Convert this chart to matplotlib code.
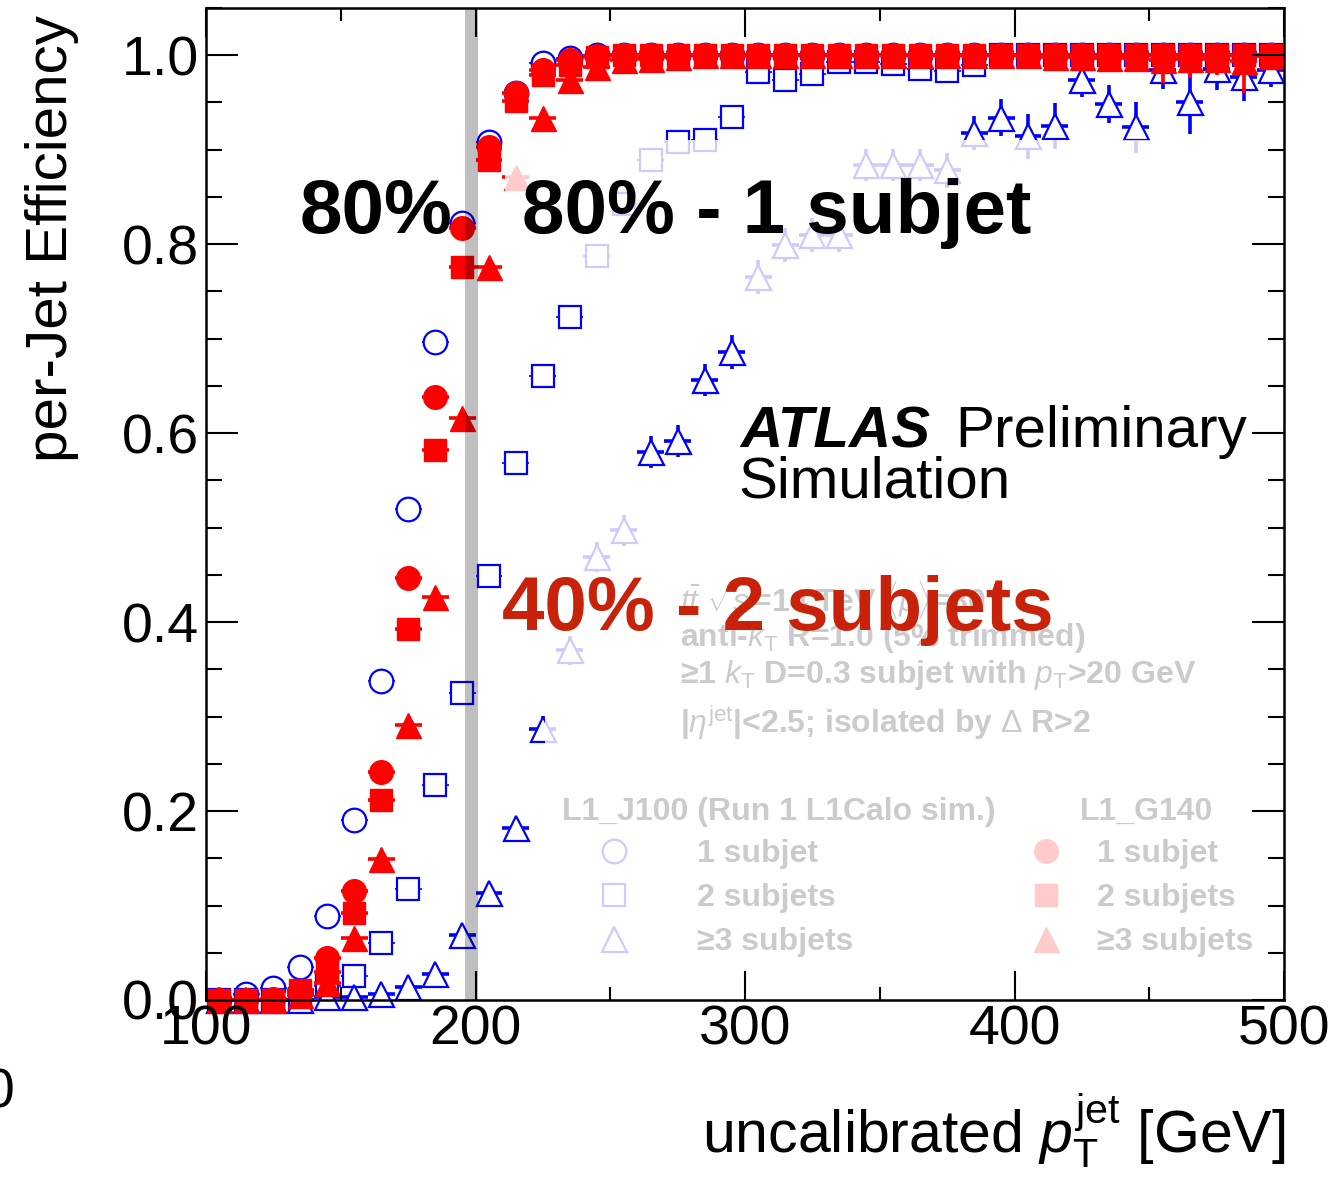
import numpy as np
import matplotlib
matplotlib.use("Agg")
import matplotlib.pyplot as plt
from matplotlib.lines import Line2D
from matplotlib.patches import Rectangle
from matplotlib.ticker import MultipleLocator, FormatStrFormatter

plt.rcParams['font.family'] = ['Liberation Sans', 'DejaVu Sans']
plt.rcParams['mathtext.fontset'] = 'custom'
plt.rcParams['mathtext.rm'] = 'Liberation Sans'
plt.rcParams['mathtext.it'] = 'Liberation Sans:italic'
plt.rcParams['mathtext.bf'] = 'Liberation Sans:bold'
plt.rcParams['mathtext.sf'] = 'Liberation Sans'

# ---------------- data ----------------
pt_bins = [105, 115, 125, 135, 145, 155, 165, 175, 185, 195,
           205, 215, 225, 235, 245, 255, 265, 275, 285, 295,
           305, 315, 325, 335, 345, 355, 365, 375, 385, 395,
           405, 415, 425, 435, 445, 455, 465, 475, 485, 495]

# L1_J100 (open blue)
j100_1sub = [0.000, 0.006, 0.013, 0.035, 0.089, 0.190, 0.338, 0.520, 0.696, 0.822,
             0.908, 0.960, 0.992, 0.997, 1.000, 1.000, 1.000, 1.000, 1.000, 1.000,
             1.000, 1.000, 1.000, 1.000, 1.000, 1.000, 1.000, 1.000, 1.000, 1.000,
             1.000, 1.000, 1.000, 1.000, 1.000, 1.000, 1.000, 1.000, 1.000, 1.000]
j100_2sub = [0.000, 0.000, 0.000, 0.001, 0.015, 0.025, 0.060, 0.118, 0.228, 0.325,
             0.449, 0.568, 0.660, 0.723, 0.788, 0.843, 0.889, 0.908, 0.910, 0.935,
             0.982, 0.974, 0.980, 0.993, 0.993, 0.991, 0.985, 0.983, 0.990, 1.000,
             1.000, 1.000, 1.000, 1.000, 1.000, 1.000, 1.000, 1.000, 1.000, 1.000]
j100_3sub = [0.000, 0.000, 0.000, 0.000, 0.003, 0.003, 0.006, 0.014, 0.027, 0.069,
             0.113, 0.182, 0.287, 0.370, 0.469, 0.497, 0.580, 0.592, 0.656, 0.686,
             0.765, 0.799, 0.810, 0.810, 0.884, 0.884, 0.884, 0.878, 0.918, 0.934,
             0.914, 0.925, 0.974, 0.948, 0.924, 0.984, 0.950, 0.985, 0.977, 0.984]
j100_3sub_err = [0.000, 0.000, 0.000, 0.000, 0.002, 0.002, 0.003, 0.004, 0.006, 0.008,
                 0.010, 0.012, 0.014, 0.015, 0.016, 0.016, 0.017, 0.017, 0.017, 0.018,
                 0.018, 0.018, 0.018, 0.018, 0.017, 0.017, 0.017, 0.018, 0.018, 0.020,
                 0.024, 0.024, 0.018, 0.020, 0.027, 0.020, 0.033, 0.022, 0.025, 0.018]

# L1_G140 (filled red)
g140_1sub = [0.000, 0.000, 0.001, 0.008, 0.044, 0.115, 0.241, 0.447, 0.638, 0.817,
             0.903, 0.960, 0.984, 0.995, 0.999, 1.000, 1.000, 1.000, 1.000, 1.000,
             1.000, 1.000, 1.000, 1.000, 1.000, 1.000, 1.000, 1.000, 1.000, 1.000,
             1.000, 1.000, 1.000, 1.000, 1.000, 1.000, 1.000, 1.000, 1.000, 1.000]
g140_2sub = [0.000, 0.000, 0.000, 0.011, 0.030, 0.092, 0.212, 0.393, 0.582, 0.776,
             0.889, 0.952, 0.979, 0.990, 0.998, 1.000, 1.000, 1.000, 1.000, 1.000,
             1.000, 1.000, 1.000, 1.000, 1.000, 1.000, 1.000, 1.000, 1.000, 1.000,
             1.000, 1.000, 1.000, 1.000, 1.000, 1.000, 1.000, 1.000, 1.000, 1.000]
g140_3sub = [0.000, 0.000, 0.000, 0.005, 0.018, 0.066, 0.149, 0.291, 0.427, 0.616,
             0.776, 0.871, 0.934, 0.974, 0.988, 0.995, 0.996, 0.998, 1.000, 1.000,
             1.000, 1.000, 1.000, 1.000, 1.000, 1.000, 1.000, 1.000, 1.000, 1.000,
             1.000, 0.998, 0.998, 0.997, 0.997, 0.995, 0.996, 0.996, 0.994, 0.999]
g140_3sub_err = [0.000, 0.000, 0.000, 0.000, 0.003, 0.005, 0.007, 0.008, 0.009, 0.009,
                 0.008, 0.007, 0.006, 0.004, 0.003, 0.003, 0.003, 0.002, 0.002, 0.002,
                 0.002, 0.002, 0.002, 0.002, 0.002, 0.002, 0.002, 0.002, 0.002, 0.002,
                 0.002, 0.012, 0.011, 0.015, 0.015, 0.024, 0.020, 0.017, 0.034, 0.006]

bin_halfwidth = 5.0
threshold_line = 198.5

x_ticks = [100, 200, 300, 400, 500]
y_ticks = [0.0, 0.2, 0.4, 0.6, 0.8, 1.0]

# ---------------- figure ----------------
W, H = 1340, 1181
fig = plt.figure(figsize=(W / 100, H / 100), dpi=100)
ax = fig.add_axes([206 / W, 1 - 1000 / H, (1284 - 206) / W, 992 / H])
ax.set_xlim(100, 500)
ax.set_ylim(0, 1.05)


def fpx(x, y):
    return (x / W, 1 - y / H)


BLUE = '#0000ff'
RED = '#ff0000'
x = np.array(pt_bins, dtype=float)


def yerr_asym(vals, errs):
    v = np.array(vals)
    e = np.array(errs)
    return [e, np.minimum(e, 1.0 - v)]


# blue open markers
ax.errorbar(x, j100_1sub, xerr=bin_halfwidth, fmt='o', ms=17, mfc='white', mec=BLUE,
            mew=1.6, ecolor=BLUE, elinewidth=1.2, capsize=0, zorder=3.0, clip_on=False)
ax.errorbar(x, j100_2sub, xerr=bin_halfwidth, fmt='s', ms=16.5, mfc='white', mec=BLUE,
            mew=1.6, ecolor=BLUE, elinewidth=1.2, capsize=0, zorder=3.1, clip_on=False)
ax.errorbar(x, j100_3sub, xerr=bin_halfwidth, yerr=yerr_asym(j100_3sub, j100_3sub_err),
            fmt='^', ms=18, mfc='white', mec=BLUE, mew=1.6, ecolor=BLUE,
            elinewidth=2.6, capsize=0, zorder=3.2, clip_on=False)
# red filled markers
ax.errorbar(x, g140_1sub, xerr=bin_halfwidth, fmt='o', ms=17, mfc=RED, mec=RED,
            mew=1.0, ecolor=RED, elinewidth=2.6, capsize=0, zorder=3.3, clip_on=False)
ax.errorbar(x, g140_3sub, xerr=bin_halfwidth, yerr=yerr_asym(g140_3sub, g140_3sub_err),
            fmt='^', ms=18, mfc=RED, mec=RED, mew=1.0, ecolor=RED,
            elinewidth=2.6, capsize=0, zorder=3.4, clip_on=False)
ax.errorbar(x, g140_2sub, xerr=bin_halfwidth, fmt='s', ms=16.5, mfc=RED, mec=RED,
            mew=1.0, ecolor=RED, elinewidth=2.6, capsize=0, zorder=3.5, clip_on=False)

# threshold band (semi-transparent gray, over the markers)
ax.axvspan(threshold_line - 2.4, threshold_line + 2.4, color='black', alpha=0.25,
           lw=0, zorder=8)

# ---------------- faded info text & legend (under the white veil) ----------------
info_kw = dict(transform=fig.transFigure, fontsize=23, fontweight='bold',
               color='black', ha='left', va='baseline', zorder=3)
ax.text(*fpx(680, 612), r'$t\bar{t}$ $\sqrt{s}$=14 TeV $\langle\mu\rangle$=80', **info_kw)
ax.text(*fpx(680, 646), r'anti-$k_{\mathrm{T}}$ R=1.0 (5% trimmed)', **info_kw)
ax.text(*fpx(680, 683), r'≥1 $k_{\mathrm{T}}$ D=0.3 subjet with $p_{\mathrm{T}}$>20 GeV', **info_kw)
ax.text(*fpx(680, 733), r'|$\eta^{\mathrm{jet}}$|<2.5; isolated by $\Delta$ R>2', **info_kw)
ax.text(*fpx(562, 820), 'L1_J100 (Run 1 L1Calo sim.)', **info_kw)
ax.text(*fpx(1080, 820), 'L1_G140', **info_kw)

labels = ['1 subjet', '2 subjets', '≥3 subjets']
h_blue = [Line2D([], [], ls='none', marker=m, ms=s, mfc='white', mec=BLUE, mew=1.6)
          for m, s in zip(['o', 's', '^'], [17, 16.5, 18])]
h_red = [Line2D([], [], ls='none', marker=m, ms=s, mfc=RED, mec=RED, mew=1.0)
         for m, s in zip(['o', 's', '^'], [17, 16.5, 18])]
leg_kw = dict(loc='upper left', bbox_transform=fig.transFigure, frameon=False,
              prop={'weight': 'bold', 'size': 23}, handlelength=1.0,
              labelspacing=0.44, borderpad=0, borderaxespad=0)
leg1 = ax.legend(h_blue, labels, bbox_to_anchor=fpx(598, 839), handletextpad=2.1, **leg_kw)
leg1.set_zorder(3)
ax.add_artist(leg1)
leg2 = ax.legend(h_red, labels, bbox_to_anchor=fpx(1030, 839), handletextpad=1.1, **leg_kw)
leg2.set_zorder(3)

# white veil (semi-transparent) over parts of the plot
ax.add_patch(Rectangle((211, 0.74), 289, 0.17, facecolor='white', edgecolor='none',
                       alpha=0.8, zorder=6))
ax.add_patch(Rectangle((225.8, -0.02), 274.2, 0.55, facecolor='white', edgecolor='none',
                       alpha=0.8, zorder=6))

# ---------------- overlay annotations ----------------
big_kw = dict(transform=fig.transFigure, fontsize=55, fontweight='bold',
              ha='left', va='baseline')
ax.text(*fpx(300, 233), '80%', color='black', zorder=2.5, **big_kw)
ax.text(*fpx(522, 233), '80% - 1 subjet', color='black', zorder=7, **big_kw)
ax.text(*fpx(502, 630), '40% - 2 subjets', color='#c8230a', zorder=7, **big_kw)

ax.text(*fpx(740, 447), 'ATLAS', transform=fig.transFigure, fontsize=42,
        fontweight='bold', fontstyle='italic', ha='left', va='baseline', zorder=7)
ax.text(*fpx(955, 447), 'Preliminary', transform=fig.transFigure, fontsize=42,
        ha='left', va='baseline', zorder=7)
ax.text(*fpx(738, 497), 'Simulation', transform=fig.transFigure, fontsize=42,
        ha='left', va='baseline', zorder=7)

# ---------------- axes styling ----------------
ax.xaxis.set_major_locator(plt.FixedLocator(x_ticks))
ax.xaxis.set_minor_locator(MultipleLocator(50))
ax.yaxis.set_major_locator(plt.FixedLocator(y_ticks))
ax.yaxis.set_minor_locator(MultipleLocator(0.05))
ax.yaxis.set_major_formatter(FormatStrFormatter('%.1f'))
ax.tick_params(which='both', direction='in', top=True, right=True, width=1.5,
               labelsize=40)
ax.tick_params(axis='x', which='major', length=21, pad=3)
ax.tick_params(axis='x', which='minor', length=9.5)
ax.tick_params(axis='y', which='major', length=23, pad=5)
ax.tick_params(axis='y', which='minor', length=11.5)
for sp in ax.spines.values():
    sp.set_linewidth(1.8)
    sp.set_zorder(10)
ax.xaxis.set_zorder(10)
ax.yaxis.set_zorder(10)

fig.text(*fpx(52, 15), 'per-Jet Efficiency', rotation=90, ha='center', va='top',
         fontsize=42)
fig.text(*fpx(1285, 1152), r'uncalibrated $p_{\mathrm{T}}^{\mathrm{jet}}$ [GeV]',
         ha='right', va='baseline', fontsize=42.5)
fig.text(*fpx(15, 1093), '0', ha='right', va='center', fontsize=40)

fig.savefig('out.png', dpi=100)
